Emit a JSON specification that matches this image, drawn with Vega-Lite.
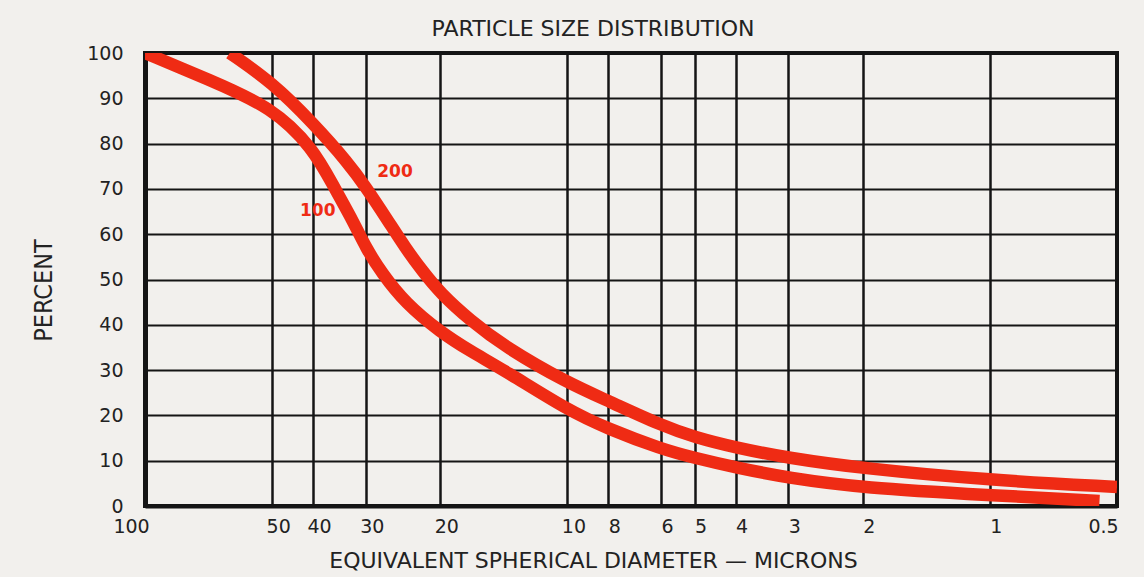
{
  "$schema": "https://vega.github.io/schema/vega-lite/v6.json",
  "width": 972,
  "height": 453,
  "autosize": {"type": "none"},
  "padding": {"left": 145, "top": 53, "right": 27, "bottom": 71},
  "background": "#f2f0ed",
  "config": {
    "view": {"stroke": "#151515", "strokeWidth": 4, "fill": null},
    "axis": {"zindex": 1}
  },
  "title": {
    "text": "PARTICLE SIZE DISTRIBUTION",
    "frame": "group",
    "anchor": "middle",
    "dx": -38,
    "dy": 31,
    "offset": 17,
    "baseline": "alphabetic",
    "font": "DejaVu Sans",
    "fontSize": 22,
    "fontWeight": "normal",
    "color": "#222222"
  },
  "datasets": {
    "curves": [
      {"series": "100", "d": 100, "pct": 100},
      {"series": "100", "d": 70, "pct": 94},
      {"series": "100", "d": 50, "pct": 88},
      {"series": "100", "d": 40, "pct": 79},
      {"series": "100", "d": 35.7, "pct": 70.4},
      {"series": "100", "d": 32, "pct": 62.5},
      {"series": "100", "d": 30, "pct": 57},
      {"series": "100", "d": 27.5, "pct": 51.4},
      {"series": "100", "d": 24.2, "pct": 44.8},
      {"series": "100", "d": 20, "pct": 38.4},
      {"series": "100", "d": 17, "pct": 34.2},
      {"series": "100", "d": 14, "pct": 29.8},
      {"series": "100", "d": 10, "pct": 21.2},
      {"series": "100", "d": 8, "pct": 17},
      {"series": "100", "d": 6, "pct": 12.6},
      {"series": "100", "d": 5, "pct": 10.6},
      {"series": "100", "d": 4, "pct": 8.5},
      {"series": "100", "d": 3, "pct": 6.2},
      {"series": "100", "d": 2, "pct": 4},
      {"series": "100", "d": 1, "pct": 2.4},
      {"series": "100", "d": 0.55, "pct": 1.1},
      {"series": "200", "d": 63, "pct": 100},
      {"series": "200", "d": 50, "pct": 93.5},
      {"series": "200", "d": 40, "pct": 84.5},
      {"series": "200", "d": 33, "pct": 75.7},
      {"series": "200", "d": 30, "pct": 70.4},
      {"series": "200", "d": 26.6, "pct": 63},
      {"series": "200", "d": 24.2, "pct": 57},
      {"series": "200", "d": 22.1, "pct": 52},
      {"series": "200", "d": 20, "pct": 47},
      {"series": "200", "d": 17, "pct": 41},
      {"series": "200", "d": 14, "pct": 35},
      {"series": "200", "d": 10, "pct": 27.2},
      {"series": "200", "d": 8, "pct": 23.2},
      {"series": "200", "d": 6, "pct": 17.8},
      {"series": "200", "d": 5, "pct": 15.2},
      {"series": "200", "d": 4, "pct": 12.9},
      {"series": "200", "d": 3, "pct": 10.6},
      {"series": "200", "d": 2, "pct": 8.3},
      {"series": "200", "d": 1, "pct": 5.7},
      {"series": "200", "d": 0.5, "pct": 4.2}
    ],
    "labels": [
      {"label": "200", "d": 25.6, "pct": 73.7},
      {"label": "100", "d": 39, "pct": 65.1}
    ]
  },
  "layer": [
    {
      "data": {"name": "curves"},
      "mark": {"type": "line", "color": "#ef2b14", "strokeWidth": 12.5, "interpolate": "basis", "clip": true, "strokeCap": "butt"},
      "encoding": {
        "x": {
          "field": "d",
          "type": "quantitative",
          "scale": {"type": "log", "domain": [0.5, 100], "reverse": true, "nice": false},
          "axis": {
            "values": [100, 50, 40, 30, 20, 10, 8, 6, 5, 4, 3, 2, 1, 0.5],
            "format": "~g",
            "grid": true,
            "gridColor": "#151515",
            "gridWidth": 2.5,
            "gridOpacity": 1,
            "domain": true,
            "domainColor": "#151515",
            "domainWidth": 4,
            "ticks": false,
            "tickSize": 0,
            "labelFlush": false,
            "labelOverlap": false,
            "labelBound": false,
            "labelFont": "DejaVu Sans",
            "labelFontSize": 19,
            "labelColor": "#222222",
            "labelPadding": 11,
            "labelOffset": {"condition": {"test": "datum.value == 100 || datum.value == 0.5", "value": -14}, "value": 6},
            "title": "EQUIVALENT SPHERICAL DIAMETER — MICRONS",
            "titleFont": "DejaVu Sans",
            "titleFontSize": 22,
            "titleFontWeight": "normal",
            "titleColor": "#222222",
            "titleX": 448,
            "titleY": 61,
            "titleAlign": "center",
            "titleBaseline": "alphabetic"
          }
        },
        "y": {
          "field": "pct",
          "type": "quantitative",
          "scale": {"domain": [0, 100], "nice": false},
          "axis": {
            "values": [0, 10, 20, 30, 40, 50, 60, 70, 80, 90, 100],
            "grid": true,
            "gridColor": "#151515",
            "gridWidth": 2,
            "gridOpacity": 1,
            "domain": true,
            "domainColor": "#151515",
            "domainWidth": 5,
            "ticks": false,
            "tickSize": 0,
            "labelFont": "DejaVu Sans",
            "labelFontSize": 19,
            "labelColor": "#222222",
            "labelPadding": 22,
            "labelOverlap": false,
            "labelBound": false,
            "labelFlush": false,
            "title": "PERCENT",
            "titleFont": "Liberation Sans Narrow, DejaVu Sans Condensed, sans-serif",
            "titleFontSize": 25,
            "titleFontWeight": "normal",
            "titleColor": "#222222",
            "titleAngle": -90,
            "titleX": -102,
            "titleY": 237,
            "titleAlign": "center",
            "titleBaseline": "middle"
          }
        },
        "detail": {"field": "series", "type": "nominal"}
      }
    },
    {
      "data": {"name": "labels"},
      "mark": {"type": "text", "color": "#ef2b14", "font": "DejaVu Sans", "fontWeight": "bold", "fontSize": 17, "align": "center", "baseline": "middle"},
      "encoding": {
        "x": {"field": "d", "type": "quantitative"},
        "y": {"field": "pct", "type": "quantitative"},
        "text": {"field": "label", "type": "nominal"}
      }
    }
  ]
}
